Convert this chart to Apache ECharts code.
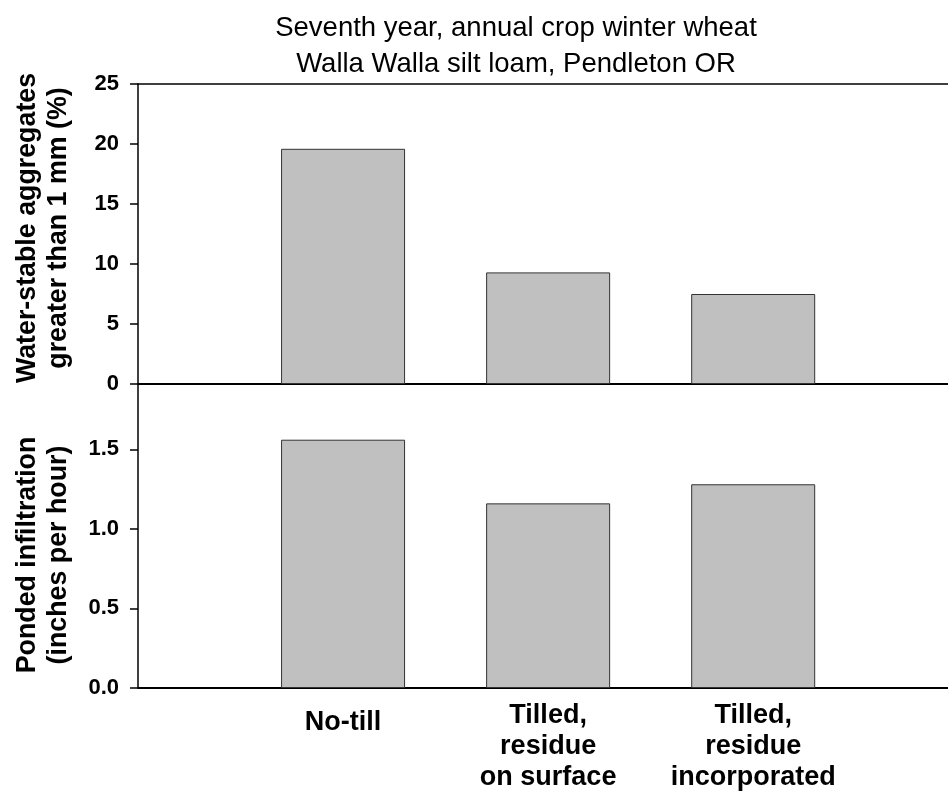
<!DOCTYPE html>
<html>
<head>
<meta charset="utf-8">
<script src="https://cdn.jsdelivr.net/npm/echarts@6/dist/echarts.min.js"></script>
<style>
  html, body { margin: 0; padding: 0; background: #fff; }
  #chart { width: 948px; height: 793px; }
</style>
</head>
<body>
<div id="chart"></div>
<script>
// categories sit at x = 1, 2, 3 on a value axis (empty space left of first bar)
var categories = ['No-till', 'Tilled,\nresidue\non surface', 'Tilled,\nresidue\nincorporated'];
var aggregates = [19.6, 9.3, 7.5];
var infiltration = [1.56, 1.16, 1.28];
var aggTicks = [0, 5, 10, 15, 20, 25];
var infTicks = ['0.0', '0.5', '1.0', '1.5'];

var font = '"Liberation Sans", Arial, sans-serif';
var chart = echarts.init(document.getElementById('chart'));

function toPairs(vals) {
  var out = [];
  for (var i = 0; i < vals.length; i++) {
    out.push([i + 1, vals[i]]);
  }
  return out;
}

var barStyle = {
  color: '#c0c0c0',
  borderColor: '#333',
  borderWidth: 1
};

var option = {
  animation: false,
  backgroundColor: '#fff',
  title: {
    text: 'Seventh year, annual crop winter wheat\nWalla Walla silt loam, Pendleton OR',
    left: 511,
    top: 5,
    textAlign: 'center',
    textStyle: {
      fontFamily: font,
      fontWeight: 'normal',
      fontSize: 27.5,
      lineHeight: 36,
      color: '#000'
    }
  },
  grid: [
    { left: 138, right: 0, top: 84, height: 300 },
    { left: 138, right: 0, top: 384, height: 306 }
  ],
  xAxis: [
    {
      gridIndex: 0, type: 'value', min: 0, max: 3.95, interval: 1,
      axisLine: { lineStyle: { color: '#000', width: 2 } },
      axisTick: { show: false }, axisLabel: { show: false }, splitLine: { show: false }
    },
    {
      gridIndex: 0, type: 'value', position: 'top', min: 0, max: 3.95, interval: 1,
      axisLine: { lineStyle: { color: '#000', width: 1.5 } },
      axisTick: { show: false }, axisLabel: { show: false }, splitLine: { show: false }
    },
    {
      gridIndex: 1, type: 'value', min: 0, max: 3.95, interval: 1,
      axisLine: { lineStyle: { color: '#000', width: 2 } },
      axisTick: { show: false }, splitLine: { show: false },
      axisLabel: {
        showMaxLabel: false,
        margin: 12,
        verticalAlign: 'top',
        formatter: function (v) {
          var i = Math.round(v) - 1;
          if (i < 0 || i >= categories.length) return '';
          return i === 0 ? '{one|' + categories[i] + '}' : categories[i];
        },
        fontFamily: font,
        fontWeight: 'bold',
        fontSize: 27,
        lineHeight: 31,
        color: '#000',
        rich: {
          one: { fontFamily: font, fontWeight: 'bold', fontSize: 27, lineHeight: 31, padding: [15, 0, 0, 0], color: '#000' }
        }
      }
    }
  ],
  yAxis: [
    {
      gridIndex: 0, type: 'value', min: 0, max: 25, interval: 5,
      name: 'Water-stable aggregates\ngreater than 1 mm (%)',
      nameLocation: 'middle',
      nameGap: 64,
      nameTextStyle: { fontFamily: font, fontWeight: 'bold', fontSize: 26.8, lineHeight: 31, color: '#000', padding: [0, 0, 0, 12] },
      axisLine: { show: true, lineStyle: { color: '#000', width: 1.5 } },
      axisTick: { show: true, length: 8, lineStyle: { color: '#000', width: 1.5 } },
      axisLabel: {
        margin: 19, fontFamily: font, fontWeight: 'bold', fontSize: 22, color: '#000',
        formatter: function (v) { return aggTicks.indexOf(v) >= 0 ? String(v) : ''; }
      },
      splitLine: { show: false }
    },
    {
      gridIndex: 1, type: 'value', min: 0, max: 1.91, interval: 0.5,
      name: 'Ponded infiltration\n(inches per hour)',
      nameLocation: 'middle',
      nameGap: 64,
      nameTextStyle: { fontFamily: font, fontWeight: 'bold', fontSize: 26.8, lineHeight: 31, color: '#000', padding: [0, 38, 0, 0] },
      axisLine: { show: true, lineStyle: { color: '#000', width: 1.5 } },
      axisTick: { show: true, length: 8, lineStyle: { color: '#000', width: 1.5 } },
      axisLabel: {
        margin: 19, fontFamily: font, fontWeight: 'bold', fontSize: 22, color: '#000',
        showMaxLabel: false,
        formatter: function (v) {
          var s = v.toFixed(1);
          return infTicks.indexOf(s) >= 0 ? s : '';
        }
      },
      splitLine: { show: false }
    }
  ],
  series: [
    {
      type: 'bar', xAxisIndex: 0, yAxisIndex: 0, barWidth: 124,
      data: toPairs(aggregates), itemStyle: barStyle
    },
    {
      type: 'bar', xAxisIndex: 2, yAxisIndex: 1, barWidth: 124,
      data: toPairs(infiltration), itemStyle: barStyle
    }
  ]
};

chart.setOption(option);
</script>
</body>
</html>
